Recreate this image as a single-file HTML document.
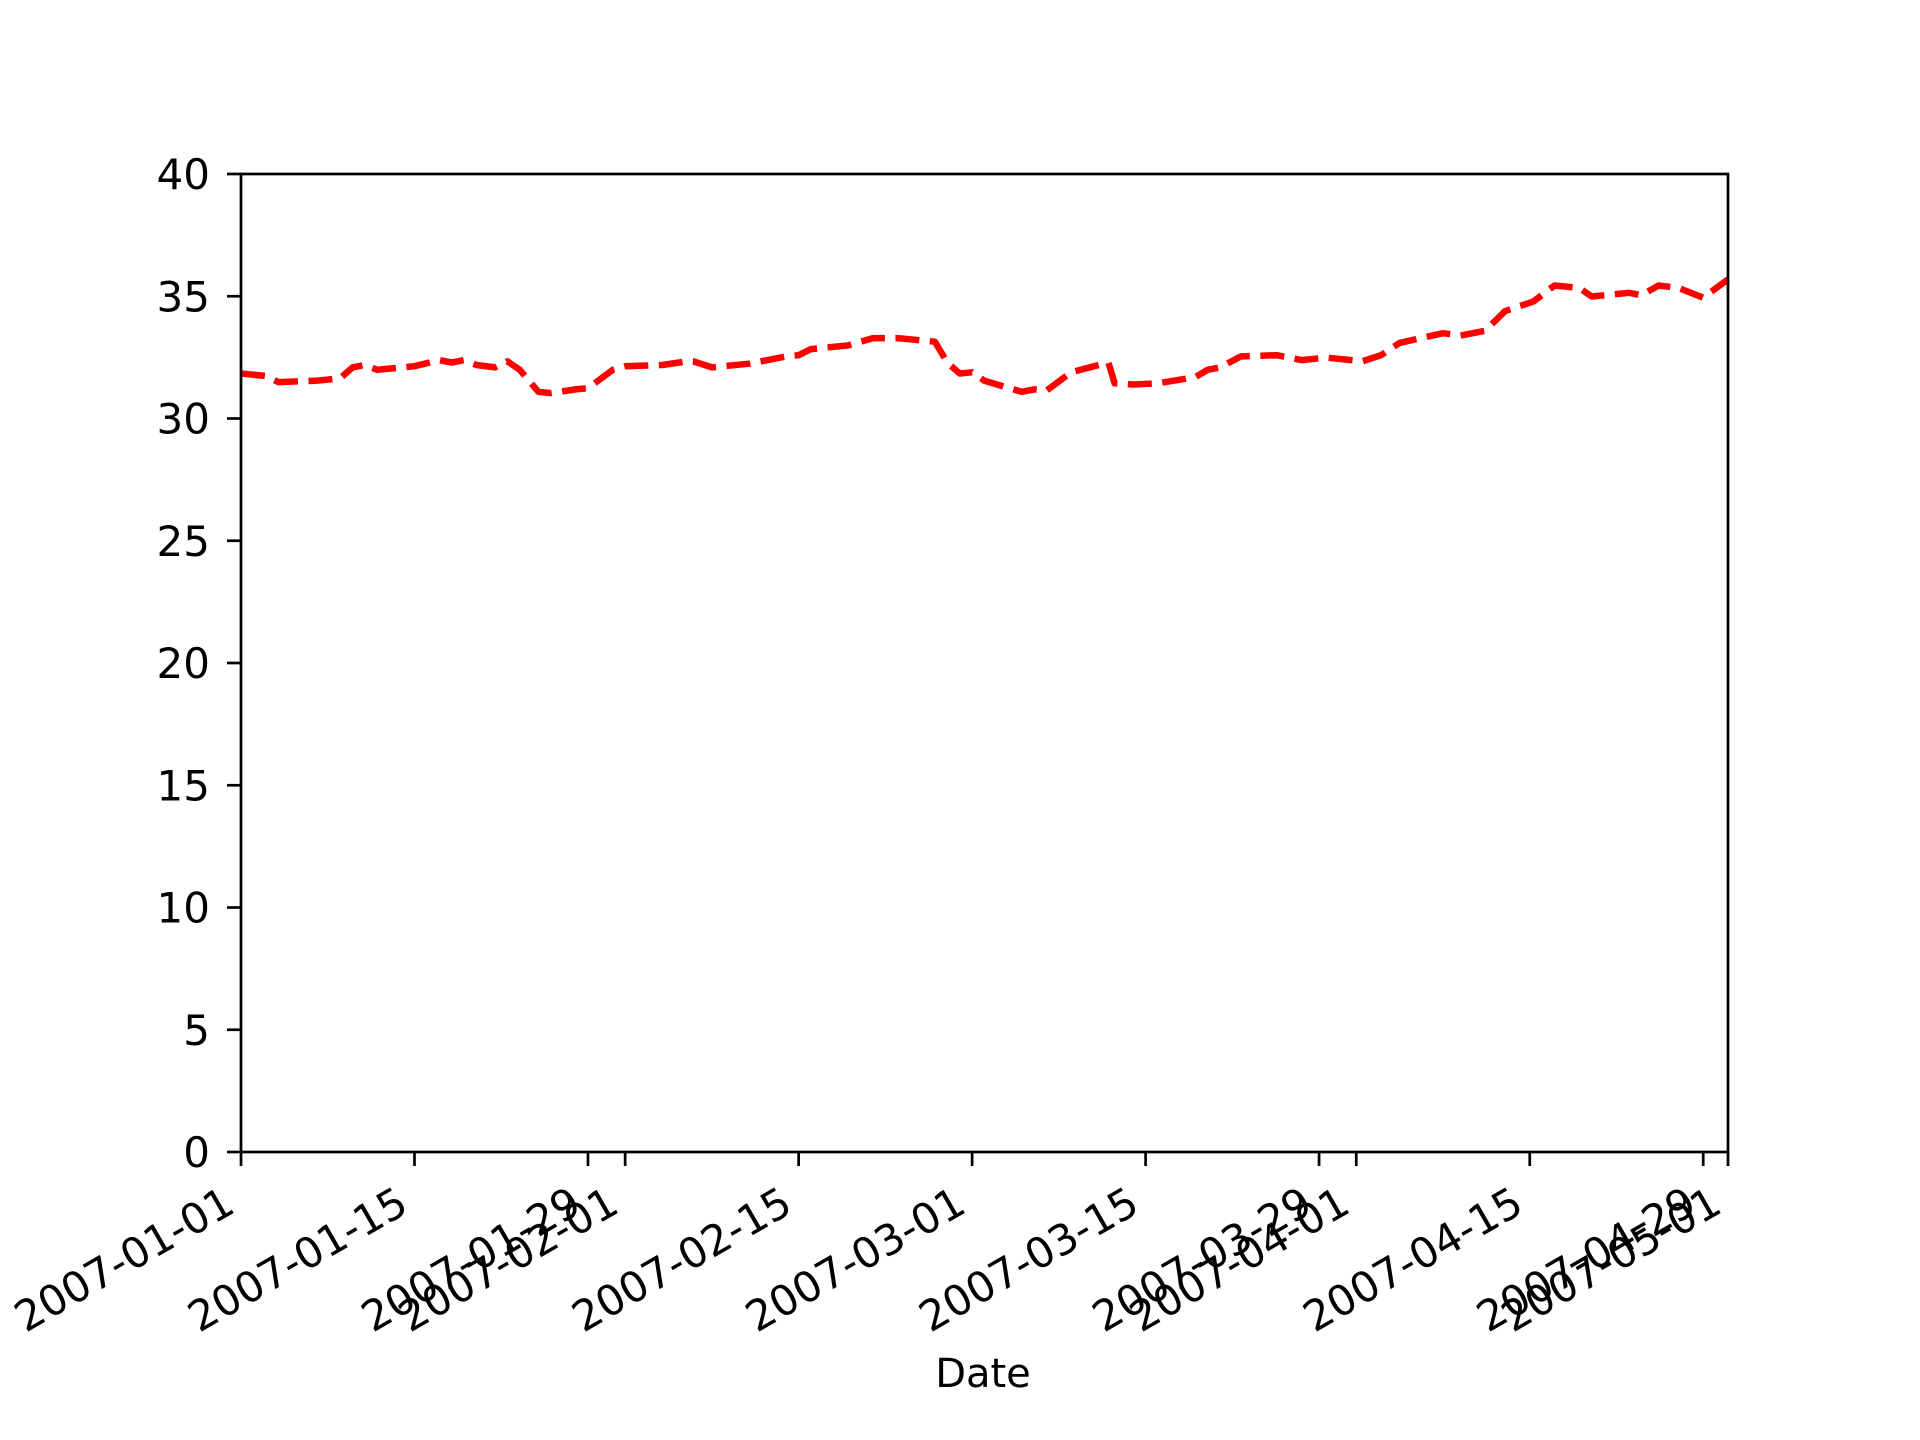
<!DOCTYPE html>
<html><head><meta charset="utf-8"><style>
html,body{margin:0;padding:0;background:#fff;}
svg{display:block;font-family:"DejaVu Sans","Liberation Sans",sans-serif;}
</style></head><body>
<svg id="chart" width="1920" height="1440" viewBox="0 0 1920 1440" xmlns="http://www.w3.org/2000/svg">
<rect width="1920" height="1440" fill="#fff"/>
<g id="series"></g>
<rect x="241" y="174" width="1487" height="978" fill="none" stroke="#000" stroke-width="2.7"/>
<g id="yaxis"></g>
<g id="xaxis"></g>
<text x="983" y="1387" font-size="40" text-anchor="middle">Date</text>
</svg>
<script>
// data (day offsets from 2007-01-01, values)
const days = [0,2,3,6,8,9,10,11,14,16,17,18,19,20.5,21.5,22.5,24,25,27,28,30,31,34,36,36.5,38,41,44,45,46,49,51,53,56,57,58,59,60,63,64,65,67,70,70.5,72,74,77,78,79,80.7,83.6,85.6,87.6,90.5,92,93.5,97,98.4,100.4,102,104.3,106,108,109,112,113,114.4,116,118,120];
const values = [31.84,31.74,31.49,31.54,31.64,32.09,32.19,31.99,32.14,32.39,32.29,32.39,32.19,32.09,32.34,31.99,31.09,31.04,31.19,31.24,31.99,32.14,32.19,32.34,32.34,32.09,32.24,32.54,32.59,32.84,32.99,33.29,33.29,33.14,32.29,31.84,31.89,31.54,31.09,31.19,31.14,31.89,32.29,31.44,31.39,31.44,31.69,31.99,32.09,32.54,32.59,32.39,32.49,32.34,32.59,33.09,33.49,33.39,33.59,34.39,34.79,35.44,35.34,34.99,35.14,35.04,35.44,35.34,34.94,35.69];
const xTickDays = [0,14,28,31,45,59,73,87,90,104,118,120];
const xTickLabels = ["2007-01-01","2007-01-15","2007-01-29","2007-02-01","2007-02-15","2007-03-01","2007-03-15","2007-03-29","2007-04-01","2007-04-15","2007-04-29","2007-05-01"];
const yTicks = [0,5,10,15,20,25,30,35,40];

const NS = "http://www.w3.org/2000/svg";
const X0=241, X1=1728, Y0=1152, Y1=174, DMAX=120, VMAX=40;
function xs(d){return X0+(d/DMAX)*(X1-X0);}
function ys(v){return Y0-(v/VMAX)*(Y0-Y1);}
function mk(tag,attrs,parent){const e=document.createElementNS(NS,tag);for(const k in attrs)e.setAttribute(k,attrs[k]);parent.appendChild(e);return e;}

const yg=document.getElementById('yaxis');
yTicks.forEach(v=>{
  const y=ys(v);
  const t=mk('line',{x1:X0-14,x2:X0,y1:y,y2:y,stroke:'#000','stroke-width':2.7},yg);
  
  
  const l=mk('text',{x:X0-31,y:y+15,'font-size':42,'text-anchor':'end'},yg);
  l.textContent=v;
  
  
});
const xg=document.getElementById('xaxis');
xTickDays.forEach((d,i)=>{
  const x=xs(d);
  const t=mk('line',{x1:x,x2:x,y1:Y0,y2:Y0+14,stroke:'#000','stroke-width':2.7},xg);
  
  
  const bx=x-4, by=1211;
  const l=mk('text',{x:bx,y:by,'font-size':42,'text-anchor':'end',transform:`rotate(-30 ${bx} ${by})`},xg);
  l.textContent=xTickLabels[i];
  
  
});
const sg=document.getElementById('series');
const pts=days.map((d,i)=>xs(d).toFixed(1)+','+ys(values[i]).toFixed(1)).join(' ');
const pl=mk('polyline',{points:pts,fill:'none',stroke:'#ff0000','stroke-width':6.5,'stroke-dasharray':'24 10.5','stroke-linejoin':'round'},sg);


</script>
</body></html>
